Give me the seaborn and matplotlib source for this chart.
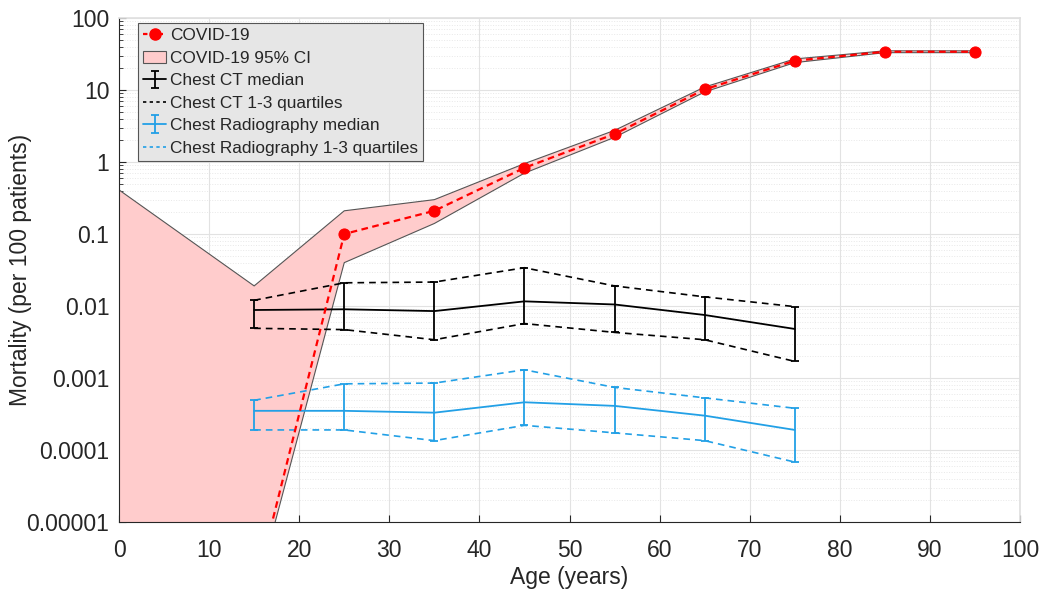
import numpy as np
import pandas as pd
import matplotlib
matplotlib.use("Agg")
import matplotlib.pyplot as plt
import seaborn as sns
from matplotlib.ticker import FixedLocator, FuncFormatter, LogLocator, NullFormatter
from matplotlib.patches import Patch

sns.set_theme(style="whitegrid")
plt.rcParams['font.family'] = ['Liberation Sans', 'DejaVu Sans']

# COVID-19 mortality by age
covid_age = [15, 25, 35, 45, 55, 65, 75, 85, 95]
covid_mort = [1e-6, 0.1, 0.21, 0.83, 2.45, 10.2, 25.5, 34.0, 34.0]

# 95% CI band
ci_age = [0, 15, 25, 35, 45, 55, 65, 75, 85, 95]
ci_upper = [0.41, 0.019, 0.21, 0.30, 0.95, 2.75, 11.0, 27.0, 35.0, 35.0]
ci_lower = [1e-7, 8e-7, 0.04, 0.14, 0.70, 2.20, 9.4, 24.0, 33.0, 33.0]

# imaging-related mortality
img_age = [15, 25, 35, 45, 55, 65, 75]
ct_median = [0.0088, 0.0090, 0.0085, 0.0116, 0.0105, 0.0075, 0.0048]
ct_q1 = [0.0049, 0.0047, 0.0034, 0.0057, 0.0043, 0.0034, 0.0017]
ct_q3 = [0.012, 0.021, 0.0215, 0.034, 0.019, 0.0134, 0.0098]
xr_median = [0.00035, 0.00035, 0.00033, 0.00046, 0.00041, 0.00030, 0.00019]
xr_q1 = [0.00019, 0.00019, 0.000135, 0.00022, 0.000173, 0.000135, 0.000068]
xr_q3 = [0.00049, 0.00083, 0.00085, 0.0013, 0.00074, 0.00053, 0.00038]

yticks = [1e-5, 1e-4, 1e-3, 1e-2, 1e-1, 1, 10, 100]

red = "#ff0000"
blue = "#22a0e6"

fig, ax = plt.subplots(figsize=(10.5, 5.93), dpi=100)
fig.subplots_adjust(left=119/1050, right=1020/1050, top=1-18/593, bottom=1-522/593)

band = ax.fill_between(ci_age, ci_lower, ci_upper, facecolor="#ffcccc",
                       edgecolor="#555555", linewidth=0.8, zorder=1)

df_img = pd.DataFrame({"age": img_age, "ct_med": ct_median, "ct_q1": ct_q1, "ct_q3": ct_q3,
                       "xr_med": xr_median, "xr_q1": xr_q1, "xr_q3": xr_q3})

# quartile lines
for col, c in [("ct_q1", "black"), ("ct_q3", "black"), ("xr_q1", blue), ("xr_q3", blue)]:
    sns.lineplot(data=df_img, x="age", y=col, ax=ax, color=c, linestyle=(0, (4, 3)),
                 linewidth=1.2, legend=False, zorder=3)

# medians with quartile error bars
ct_eb = ax.errorbar(img_age, ct_median,
                    yerr=[np.array(ct_median) - np.array(ct_q1), np.array(ct_q3) - np.array(ct_median)],
                    color="black", linewidth=1.3, capsize=3, capthick=1.3, elinewidth=1.3, zorder=4)
xr_eb = ax.errorbar(img_age, xr_median,
                    yerr=[np.array(xr_median) - np.array(xr_q1), np.array(xr_q3) - np.array(xr_median)],
                    color=blue, linewidth=1.3, capsize=3, capthick=1.3, elinewidth=1.3, zorder=4)

df_cov = pd.DataFrame({"age": covid_age, "mort": covid_mort})
sns.lineplot(data=df_cov, x="age", y="mort", ax=ax, color=red, linestyle=(0, (3, 2)),
             linewidth=1.6, marker="o", markersize=8, markeredgecolor=red,
             legend=False, zorder=5)

ax.set_yscale("log")
ax.set_xlim(0, 100)
ax.set_ylim(1e-5, 100)
ax.set_xticks(range(0, 101, 10))
ax.yaxis.set_major_locator(FixedLocator(yticks))
ax.yaxis.set_major_formatter(FuncFormatter(
    lambda v, p: f"{v:.{max(0, -int(round(np.log10(v))))}f}"))
ax.yaxis.set_minor_locator(LogLocator(base=10, subs=np.arange(2, 10)))
ax.yaxis.set_minor_formatter(NullFormatter())

ax.grid(which="major", color="#e2e2e2", linewidth=0.8)
ax.grid(which="minor", axis="y", color="#e8e8e8", linewidth=0.7, linestyle=":")
ax.set_axisbelow(True)
ax.tick_params(axis="both", which="major", direction="in", length=5, width=0.8,
               colors="#262626", labelsize=16.5, left=True, bottom=True)
ax.tick_params(axis="x", which="major", pad=12)
ax.tick_params(axis="y", which="major", pad=7)
ax.tick_params(axis="y", which="minor", direction="in", length=3, width=0.6,
               color="#262626", left=True)
for s in ["left", "bottom"]:
    ax.spines[s].set_color("#262626")
    ax.spines[s].set_linewidth(0.8)
for s in ["top", "right"]:
    ax.spines[s].set_color("#e0e0e0")

ax.set_xlabel("Age (years)", fontsize=16.5, color="#262626", labelpad=3)
ax.set_ylabel("Mortality (per 100 patients)", fontsize=16.5, color="#262626")
ax.yaxis.set_label_coords(-0.097, 0.5)

cov_handle = plt.Line2D([], [], color=red, linestyle=(0, (2, 1.5)), linewidth=1.6,
                        marker="o", markersize=8)
band_handle = Patch(facecolor="#ffcccc", edgecolor="#555555", linewidth=0.8)
ct_q_handle = plt.Line2D([], [], color="black", linestyle=(0, (2, 2)), linewidth=1.2)
xr_q_handle = plt.Line2D([], [], color=blue, linestyle=(0, (2, 2)), linewidth=1.2)
leg = ax.legend([cov_handle, band_handle, ct_eb, ct_q_handle, xr_eb, xr_q_handle],
                ["COVID-19", "COVID-19 95% CI", "Chest CT median", "Chest CT 1-3 quartiles",
                 "Chest Radiography median", "Chest Radiography 1-3 quartiles"],
                loc="upper left", bbox_to_anchor=(0.021, 0.99), fontsize=12.4,
                frameon=True, fancybox=False, framealpha=1, facecolor="#e6e6e6",
                edgecolor="#555555", handlelength=1.35, handletextpad=0.2,
                labelspacing=0.43, borderpad=0.3, borderaxespad=0)
leg.get_frame().set_linewidth(0.8)

fig.savefig("out.png", dpi=100)
